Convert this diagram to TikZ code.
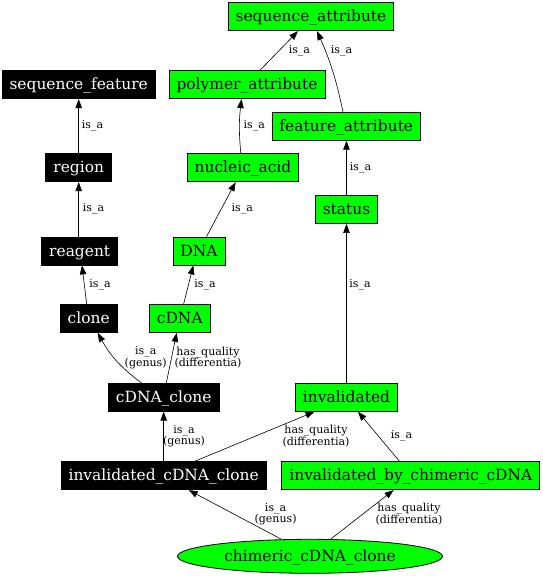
\documentclass[tikz,border=0pt]{standalone}
\usepackage{fontspec}
\setmainfont{DejaVu Serif}
\usetikzlibrary{arrows.meta,shapes.geometric}
\definecolor{gvgreen}{RGB}{0,255,0}
\begin{document}
\begin{tikzpicture}[x=1pt,y=-1pt,
  box/.style={draw=black, line width=0.8pt, rectangle, minimum height=28pt,
    inner xsep=7.5pt, inner ysep=0pt, text height=12pt, text depth=2pt,
    font=\fontsize{15.45}{18}\selectfont},
  gbox/.style={box, fill=gvgreen},
  bbox/.style={box, fill=black, text=white},
  lab/.style={font=\fontsize{11}{11.5}\selectfont, align=center, inner sep=0pt},
  edge/.style={draw, line width=0.6pt, -{Triangle[length=9pt,width=6.5pt]}},
]
\useasboundingbox (0,0) rectangle (542,576);
% nodes
\node[gbox] (seqattr) at (311,16.7) {sequence\_attribute};
\node[bbox] (seqfeat) at (78.7,84.7) {sequence\_feature};
\node[gbox] (polymer) at (247,84.7) {polymer\_attribute};
\node[gbox] (featattr) at (346.3,126.3) {feature\_attribute};
\node[bbox] (region) at (78.7,167.7) {region};
\node[gbox] (nucleic) at (243,167.7) {nucleic\_acid};
\node[gbox] (status) at (346.5,209.5) {status};
\node[bbox] (reagent) at (79.7,251) {reagent};
\node[gbox] (dna) at (199,251) {DNA};
\node[bbox] (clone) at (88.7,318.5) {clone};
\node[gbox] (cdna) at (179.8,318.5) {cDNA};
\node[bbox] (cdnaclone) at (163.7,397.3) {cDNA\_clone};
\node[gbox] (invalid) at (346.5,397.3) {invalidated};
\node[bbox] (icc) at (163.7,475.7) {invalidated\_cDNA\_clone};
\node[gbox] (ibcc) at (410.8,475.7) {invalidated\_by\_chimeric\_cDNA};
\node[ellipse, draw=black, line width=0.8pt, fill=gvgreen, minimum width=265pt,
  minimum height=34pt, inner sep=0pt, text height=12pt, text depth=2pt,
  font=\fontsize{15.45}{18}\selectfont]
  (chim) at (310,556.3) {chimeric\_cDNA\_clone};
% edges
\draw[edge] ([xshift=13pt]polymer.north) -- ([xshift=-13pt]seqattr.south);
\draw[edge] ([xshift=-3.3pt]featattr.north) to[bend right=6] ([xshift=6pt]seqattr.south);
\draw[edge] (region.north) -- (seqfeat.south);
\draw[edge] ([xshift=-2.2pt]nucleic.north) to[bend left=6] ([xshift=-5.5pt]polymer.south);
\draw[edge] (status.north) -- (featattr.south -| status.north);
\draw[edge] (reagent.north -| region.south) -- (region.south);
\draw[edge] ([xshift=7.5pt]dna.north) -- ([xshift=-7.4pt]nucleic.south);
\draw[edge] ([xshift=-2pt]clone.north) -- ([xshift=2.3pt]reagent.south);
\draw[edge] ([xshift=3.8pt]cdna.north) -- ([xshift=-5.7pt]dna.south);
\draw[edge] (invalid.north) -- (status.south);
\draw[edge] ([xshift=-22.3pt]cdnaclone.north) to[bend left=12] ([xshift=9pt]clone.south);
\draw[edge] ([xshift=2.6pt]cdnaclone.north) -- ([xshift=-3.1pt]cdna.south);
\draw[edge] (icc.north) -- (cdnaclone.south);
\draw[edge] ([xshift=31pt]icc.north) -- ([xshift=-32pt]invalid.south);
\draw[edge] ([xshift=-11.3pt]ibcc.north) -- ([xshift=11.5pt]invalid.south);
\draw[edge] ([xshift=-29.3pt]chim.north) -- ([xshift=25pt]icc.south);
\draw[edge] ([xshift=21pt]chim.north) -- ([xshift=-17.2pt]ibcc.south);
% labels
\node[lab] (l1) at (299.4,50.7) {is\_a};
\node[lab] (l2) at (341.5,50.7) {is\_a};
\node[lab] (l3) at (92.5,125.7) {is\_a};
\node[lab] (l4) at (254.3,125.7) {is\_a};
\node[lab] (l5) at (360.5,167.3) {is\_a};
\node[lab] (l6) at (93.5,208.3) {is\_a};
\node[lab] (l7) at (242.3,208.3) {is\_a};
\node[lab] (l8) at (100,284.3) {is\_a};
\node[lab] (l9) at (205,284.3) {is\_a};
\node[lab] (l10) at (360,284.3) {is\_a};
\node[lab] (l11) at (145.7,357.5) {is\_a\\(genus)};
\node[lab] (l12) at (208,357.5) {has\_quality\\(differentia)};
\node[lab] (l13) at (184,436) {is\_a\\(genus)};
\node[lab] (l14) at (316,436) {has\_quality\\(differentia)};
\node[lab] (l15) at (401.5,435.3) {is\_a};
\node[lab] (l16) at (275.6,514) {is\_a\\(genus)};
\node[lab] (l17) at (409,514) {has\_quality\\(differentia)};
\end{tikzpicture}
\end{document}
